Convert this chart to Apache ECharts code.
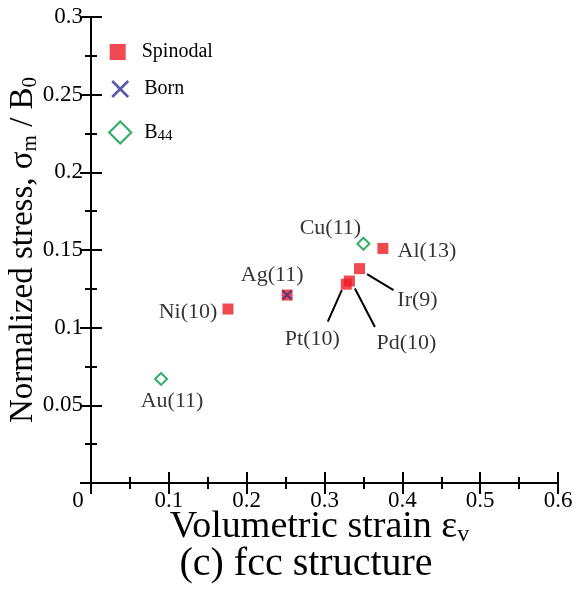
<!DOCTYPE html>
<html>
<head>
<meta charset="utf-8">
<script src="https://cdn.jsdelivr.net/npm/echarts@6/dist/echarts.min.js"></script>
<style>
  html, body { margin: 0; padding: 0; background: #fff; }
  #chart { width: 573px; height: 603px; }
</style>
</head>
<body>
<div id="chart"></div>
<script>
// Spinodal instability points (fcc metals)
const spinodalNames = ['Ni(10)', 'Ag(11)', 'Pt(10)', 'Pd(10)', 'Ir(9)', 'Al(13)'];
const spinodalStrain = [0.176, 0.252, 0.328, 0.332, 0.345, 0.375];
const spinodalStress = [0.112, 0.121, 0.128, 0.130, 0.138, 0.151];

// Born instability points
const bornNames = ['Ag(11)'];
const bornStrain = [0.252];
const bornStress = [0.121];

// B44 instability points
const b44Names = ['Au(11)', 'Cu(11)'];
const b44Strain = [0.090, 0.350];
const b44Stress = [0.067, 0.154];

// Axis ticks
const xTicks = [0, 0.1, 0.2, 0.3, 0.4, 0.5, 0.6];
const yTicks = [0, 0.05, 0.1, 0.15, 0.2, 0.25, 0.3];

// Label placement: pixel offset of each label centre from its marker
const labelShift = {
  'Ni(10)': [-40, 3],
  'Ag(11)': [-15, -20],
  'Pt(10)': [-34, 55],
  'Pd(10)': [57, 62],
  'Ir(9)': [58, 32],
  'Al(13)': [44, 3],
  'Au(11)': [11, 22],
  'Cu(11)': [-33, -16]
};
// Leader lines: [startDx, startDy, endDx, endDy] in pixels from the marker centre
const leaderOffsets = {
  'Pt(10)': [-4.5, 6, -18.5, 37.5],
  'Pd(10)': [5.5, 7.5, 25.5, 46],
  'Ir(9)': [7.5, 5.5, 34, 21.5]
};

const SERIF = '"Liberation Serif", "Times New Roman", serif';
const RED = '#ed1c24';
const NAVY = '#2e3192';
const GREEN = '#009a44';
const INK = '#000';

function points(names, xs, ys, withLabels) {
  return names.map((n, i) => ({
    name: n,
    value: [xs[i], ys[i]],
    label: { show: withLabels }
  }));
}

const pointLabel = {
  position: 'inside',
  formatter: p => p.name,
  fontFamily: SERIF,
  fontSize: 22,
  color: INK
};
function placeLabel(params) {
  const s = labelShift[params.text];
  return s ? { dx: s[0], dy: s[1] } : {};
}

// Spinodal points that carry a leader line to their label
const leaderData = spinodalNames
  .map((n, i) => ({ name: n, value: [spinodalStrain[i], spinodalStress[i]] }))
  .filter(d => leaderOffsets[d.name]);

const xMin = xTicks[0], xMax = xTicks[xTicks.length - 1];
const yMin = yTicks[0], yMax = yTicks[yTicks.length - 1];
const xStep = xTicks[1] - xTicks[0];
const yStep = yTicks[1] - yTicks[0];

// Frame axis with long inward ticks
function majorAxis(min, max, step, extra) {
  return Object.assign({
    type: 'value', min: min, max: max, interval: step,
    axisLine: { show: true, lineStyle: { color: '#000', width: 2 } },
    axisTick: { show: true, inside: true, length: 11, lineStyle: { color: '#000', width: 2 } },
    splitLine: { show: false }
  }, extra);
}
// Companion axis carrying only the short inward half-step ticks
function minorAxis(min, max, step, position) {
  return {
    type: 'value', min: min, max: max, interval: step / 2, position: position,
    axisLine: { show: false },
    axisTick: { show: true, inside: true, length: 6, lineStyle: { color: '#000', width: 2 } },
    axisLabel: { show: false },
    splitLine: { show: false }
  };
}

const squarePath = 'path://M0,0H10V10H0Z';
const crossPath = 'path://M0,0L10,10M10,0L0,10';
const diamondPath = 'path://M5,0L10,5L5,10L0,5Z';

function legendBox(name, icon, size, top, style, formatter) {
  return {
    data: [{ name: name, icon: icon }],
    orient: 'vertical',
    left: 117.7 - size / 2, top: top,
    padding: 0,
    itemWidth: size, itemHeight: size,
    itemStyle: style,
    selectedMode: false,
    formatter: formatter,
    textStyle: {
      fontFamily: SERIF, fontSize: 20, color: INK, lineHeight: 22,
      padding: [0, 0, 0, 19 - size / 2],
      rich: { s: { fontFamily: SERIF, fontSize: 15, color: INK, verticalAlign: 'bottom', lineHeight: 7 } }
    }
  };
}

const chart = echarts.init(document.getElementById('chart'), null, { renderer: 'canvas' });
chart.setOption({
  animation: false,
  backgroundColor: '#fff',
  title: {
    text: '(c) fcc structure',
    left: 301, top: 539, textAlign: 'center',
    textStyle: { fontFamily: SERIF, fontSize: 40, fontWeight: 'normal', color: INK }
  },
  grid: { left: 91, right: 15, top: 17, bottom: 120, containLabel: false, outerBoundsMode: 'none' },
  legend: [
    legendBox('Spinodal', squarePath, 16, 41,
      { color: RED, borderWidth: 0 }),
    legendBox('Born', crossPath, 16, 78,
      { color: 'none', borderColor: NAVY, borderWidth: 2.6 }),
    legendBox('B44', diamondPath, 22, 119,
      { color: 'none', borderColor: GREEN, borderWidth: 2.2 },
      () => 'B{s|44}')
  ],
  xAxis: [
    majorAxis(xMin, xMax, xStep, {
      position: 'bottom',
      name: 'Volumetric strain ε{s|v}',
      nameLocation: 'middle',
      nameGap: 24,
      nameMoveOverlap: false,
      nameTextStyle: {
        fontFamily: SERIF, fontSize: 38, color: INK, verticalAlign: 'top', lineHeight: 40,
        padding: [0, 10, 0, 0],
        rich: { s: { fontFamily: SERIF, fontSize: 24, color: INK, verticalAlign: 'bottom', lineHeight: 20.5 } }
      },
      axisLabel: {
        show: true, margin: 6, fontFamily: SERIF, fontSize: 23, color: INK,
        formatter: v => (v === 0 ? '{z|0}' : String(+v.toFixed(2))),
        rich: { z: { fontFamily: SERIF, fontSize: 23, color: INK, padding: [0, 26, 0, 0] } }
      }
    }),
    majorAxis(xMin, xMax, xStep, { position: 'top', axisLabel: { show: false } }),
    minorAxis(xMin, xMax, xStep, 'bottom'),
    minorAxis(xMin, xMax, xStep, 'top')
  ],
  yAxis: [
    majorAxis(yMin, yMax, yStep, {
      position: 'left',
      name: 'Normalized stress, σ{s|m} / B{s|0}',
      nameLocation: 'middle',
      nameGap: 50,
      nameMoveOverlap: false,
      nameRotate: 90,
      nameTextStyle: {
        fontFamily: SERIF, fontSize: 33, color: INK, lineHeight: 36,
        rich: { s: { fontFamily: SERIF, fontSize: 21, color: INK, verticalAlign: 'bottom', lineHeight: 18 } }
      },
      axisLabel: {
        show: true, margin: 8, fontFamily: SERIF, fontSize: 23, color: INK,
        formatter: v => (v === 0 ? '' : String(+v.toFixed(2)))
      }
    }),
    majorAxis(yMin, yMax, yStep, { position: 'right', axisLabel: { show: false } }),
    minorAxis(yMin, yMax, yStep, 'left'),
    minorAxis(yMin, yMax, yStep, 'right')
  ],
  series: [
    {
      name: 'Spinodal', type: 'scatter', xAxisIndex: 0, yAxisIndex: 0,
      symbol: 'rect', symbolSize: 11,
      itemStyle: { color: RED },
      label: pointLabel,
      labelLayout: placeLabel,
      data: points(spinodalNames, spinodalStrain, spinodalStress, true),
      z: 2
    },
    {
      name: 'Born', type: 'scatter', xAxisIndex: 0, yAxisIndex: 0,
      symbol: crossPath, symbolSize: 9,
      itemStyle: { color: 'none', borderColor: NAVY, borderWidth: 2 },
      data: points(bornNames, bornStrain, bornStress, false),
      z: 3
    },
    {
      name: 'B44', type: 'scatter', xAxisIndex: 0, yAxisIndex: 0,
      symbol: 'diamond', symbolSize: 12,
      itemStyle: { color: 'rgba(0,0,0,0)', borderColor: GREEN, borderWidth: 2 },
      label: pointLabel,
      labelLayout: placeLabel,
      data: points(b44Names, b44Strain, b44Stress, true),
      z: 2
    },
    {
      // leader lines from clustered markers to their labels
      name: 'leaders', type: 'custom', xAxisIndex: 0, yAxisIndex: 0,
      silent: true,
      data: leaderData,
      renderItem: (params, api) => {
        const p = api.coord([api.value(0), api.value(1)]);
        const o = leaderOffsets[leaderData[params.dataIndex].name];
        return {
          type: 'line',
          shape: { x1: p[0] + o[0], y1: p[1] + o[1], x2: p[0] + o[2], y2: p[1] + o[3] },
          style: { stroke: '#000', lineWidth: 2 }
        };
      },
      z: 1
    }
  ]
});
</script>
</body>
</html>
